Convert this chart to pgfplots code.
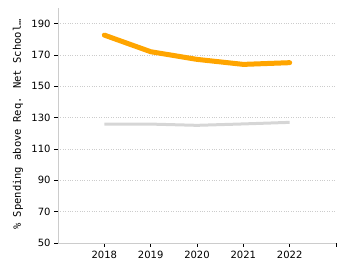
\documentclass[border=0pt]{standalone}
\usepackage{pgfplots}
\pgfplotsset{compat=1.18}
\usepackage{fontspec}
\setmainfont{DejaVu Sans}
\newfontfamily\monofont{DejaVu Sans Mono}
\definecolor{lineorange}{HTML}{FFA500}
\definecolor{linegray}{HTML}{D6D6D6}
\definecolor{axgray}{HTML}{CCCCCC}
\begin{document}
\begin{tikzpicture}[x=1pt,y=1pt]
\useasboundingbox (0,0) rectangle (350,275);
\begin{axis}[
  at={(58pt,32pt)}, anchor=south west,
  scale only axis, width=278pt, height=235pt,
  xmin=2017, xmax=2023, ymin=50, ymax=200,
  xtick={2018,2019,2020,2021,2022,2023},
  xticklabels={2018,2019,2020,2021,2022,{}},
  ytick={50,70,90,110,130,150,170,190},
  axis x line*=bottom, axis y line*=left,
  axis line style={axgray, line width=0.8pt, -},
  tick style={black, line width=0.6pt},
  tick align=outside, major tick length=4pt,
  ymajorgrids, grid style={axgray, dotted, line width=0.6pt},
  tick label style={font=\fontsize{10}{12}\selectfont},
  /pgf/number format/assume math mode=true,
  /pgf/number format/1000 sep={},
  xticklabel style={yshift=-1pt},
  ylabel={\monofont\fontsize{10.5}{12}\selectfont\% Spending above Req. Net School…},
  ylabel style={at={(axis description cs:-0.144,0.504)}, anchor=center},
]
\addplot[lineorange, line width=5pt, line join=round, line cap=round] coordinates {
 (2018,182.7) (2019,172.1) (2020,167.2) (2021,164.0) (2022,165.1)};
\addplot[linegray, line width=3pt, line join=round] coordinates {
 (2018,125.9) (2019,125.9) (2020,125.1) (2021,126.0) (2022,127.0)};
\end{axis}
\end{tikzpicture}
\end{document}
